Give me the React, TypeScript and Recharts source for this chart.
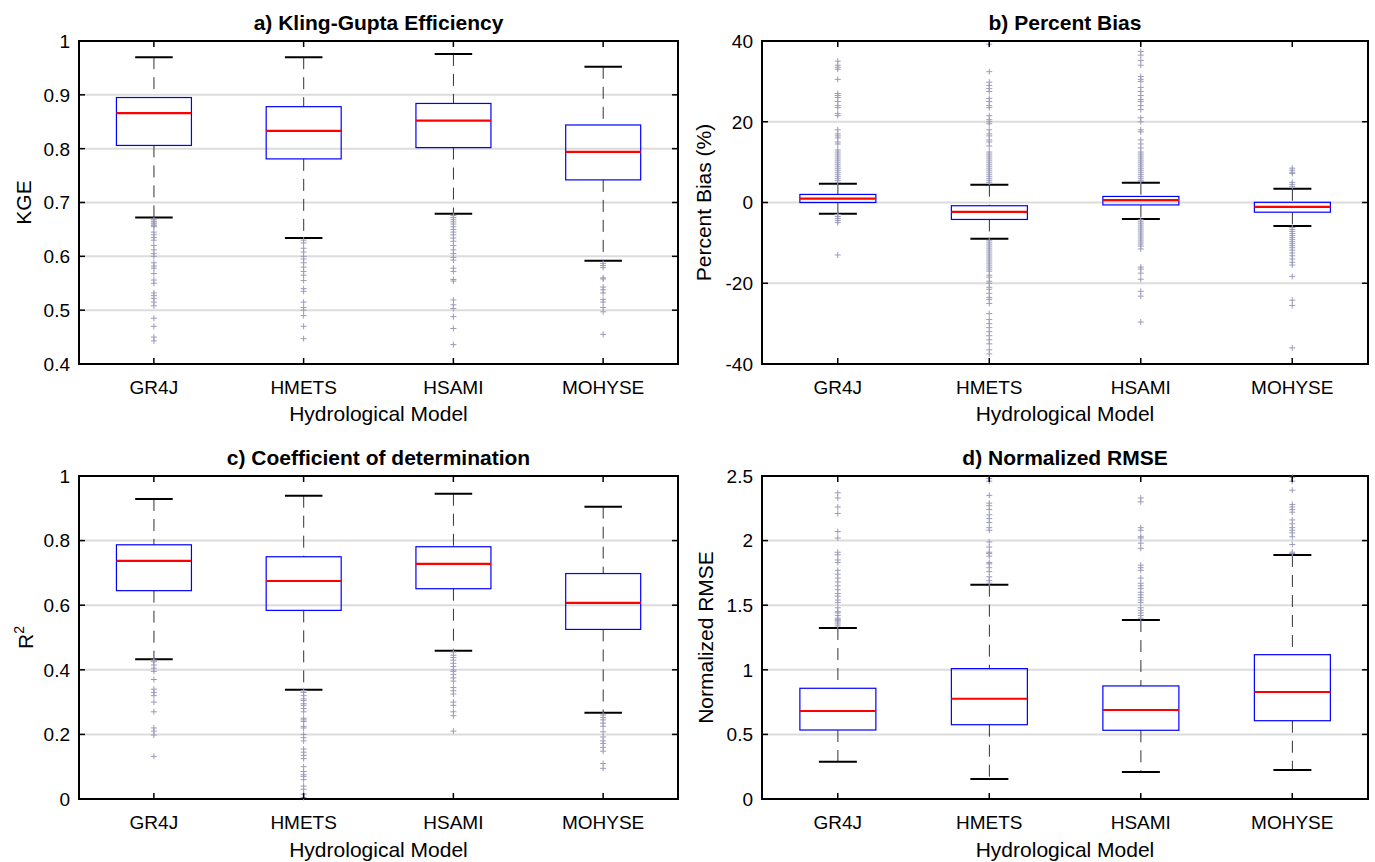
import React from "react";
import { ComposedChart, Bar, Scatter, XAxis, YAxis, CartesianGrid } from "recharts";

const models = ["GR4J", "HMETS", "HSAMI", "MOHYSE"];

// each box: [lower whisker, q1, median, q3, upper whisker]
const kgeBoxes = [
  [0.672, 0.806, 0.866, 0.895, 0.97],
  [0.634, 0.781, 0.833, 0.878, 0.97],
  [0.679, 0.802, 0.852, 0.884, 0.976],
  [0.592, 0.742, 0.794, 0.844, 0.952],
];
const kgeOutliers = [
  [0.668, 0.665, 0.662, 0.66, 0.657, 0.655, 0.645, 0.64, 0.635, 0.63, 0.62, 0.612, 0.605, 0.6, 0.588, 0.582, 0.578, 0.568, 0.556, 0.55, 0.532, 0.527, 0.522, 0.515, 0.508, 0.485, 0.47, 0.45, 0.443],
  [0.63, 0.625, 0.615, 0.608, 0.6, 0.595, 0.588, 0.58, 0.572, 0.565, 0.555, 0.54, 0.535, 0.515, 0.505, 0.5, 0.49, 0.47, 0.447],
  [0.676, 0.672, 0.668, 0.664, 0.66, 0.655, 0.65, 0.645, 0.64, 0.634, 0.628, 0.62, 0.612, 0.605, 0.598, 0.593, 0.578, 0.572, 0.557, 0.554, 0.519, 0.51, 0.503, 0.488, 0.466, 0.436],
  [0.587, 0.583, 0.579, 0.56, 0.558, 0.543, 0.538, 0.532, 0.52, 0.515, 0.505, 0.497, 0.455],
];

const pbiasBoxes = [
  [-2.8, 0.0, 0.95, 2.0, 4.65],
  [-9.0, -4.2, -2.3, -0.8, 4.4],
  [-4.1, -0.6, 0.6, 1.5, 4.9],
  [-5.8, -2.4, -1.1, 0.05, 3.4],
];
const pbiasOutliers = [
  [35, 34, 33.5, 33, 30.5, 27, 26.5, 26, 25, 24, 23.5, 22, 21.5, 18, 17, 16.5, 16, 15, 14.5, 13, 12.5, 12, 11.5, 11, 10.5, 10, 9.5, 9, 8.5, 8, 7.5, 7, 6.5, 6, 5.5, 5, -3, -3.5, -4, -4.5, -5, -13],
  [39.2, 32.4, 29.8, 29, 28.2, 27.5, 25.8, 25, 24, 23.5, 21.5, 20.5, 20, 19.5, 18, 17, 16.5, 15.5, 15, 14, 12.5, 12, 11.5, 11, 10.5, 10, 9.5, 9, 8.5, 8, 7.5, 7, 6.5, 6, 5.5, 5,
    -9.5, -10, -10.5, -11, -11.5, -12, -12.5, -13, -13.5, -14, -14.5, -15, -15.5, -16, -16.5, -17, -18, -18.5, -19.5, -20, -21, -21.5, -22.5, -23.5, -24, -25, -27.5, -29, -30, -31, -32, -33, -34, -35, -36.5, -37.5],
  [37.4, 36.5, 35.2, 34, 31.2, 30.5, 30, 28.5, 27.5, 26.5, 25.5, 25, 24, 23, 21, 20, 18, 17.5, 15.5, 14.5, 13.5, 12.5, 12, 11.5, 11, 10.5, 10, 9.5, 9, 8.5, 8, 7.5, 7, 6.5, 6, 5.5, 5.2,
    -4.3, -4.8, -5.3, -5.8, -6.3, -6.8, -7.3, -7.8, -8.3, -8.8, -9.3, -9.8, -10.3, -10.8, -11.5, -16, -16.5, -17.5, -19, -22, -23.2, -29.6],
  [8.5, 8, 7.5, 7.2, 5, 4.5, 4,
    -6.2, -6.7, -7.2, -7.7, -8.2, -8.7, -9.2, -9.7, -10.2, -10.7, -11.2, -11.8, -12.5, -13.2, -14, -14.8, -15.5, -18.3, -24.2, -25.5, -36],
];

const r2Boxes = [
  [0.433, 0.645, 0.737, 0.787, 0.929],
  [0.338, 0.584, 0.675, 0.75, 0.939],
  [0.459, 0.651, 0.728, 0.781, 0.945],
  [0.267, 0.525, 0.607, 0.698, 0.905],
];
const r2Outliers = [
  [0.43, 0.425, 0.415, 0.405, 0.395, 0.37, 0.34, 0.33, 0.32, 0.3, 0.27, 0.22, 0.21, 0.198, 0.132],
  [0.335, 0.33, 0.32, 0.31, 0.305, 0.295, 0.29, 0.28, 0.27, 0.25, 0.245, 0.24, 0.225, 0.22, 0.2, 0.19, 0.18, 0.155, 0.145, 0.135, 0.125, 0.1, 0.085, 0.075, 0.07, 0.06, 0.04, 0.03, 0.015, 0.005],
  [0.455, 0.445, 0.438, 0.43, 0.42, 0.41, 0.4, 0.395, 0.385, 0.375, 0.365, 0.345, 0.335, 0.325, 0.3, 0.29, 0.27, 0.258, 0.21],
  [0.26, 0.252, 0.245, 0.235, 0.225, 0.208, 0.192, 0.18, 0.172, 0.16, 0.148, 0.11, 0.095],
];

const nrmseBoxes = [
  [0.289, 0.534, 0.681, 0.857, 1.324],
  [0.155, 0.575, 0.776, 1.009, 1.659],
  [0.209, 0.532, 0.689, 0.875, 1.385],
  [0.224, 0.606, 0.828, 1.117, 1.889],
];
const nrmseOutliers = [
  [1.34, 1.355, 1.37, 1.38, 1.39, 1.4, 1.42, 1.44, 1.45, 1.48, 1.52, 1.54, 1.57, 1.59, 1.62, 1.65, 1.68, 1.71, 1.74, 1.77, 1.83, 1.85, 1.89, 1.91, 2.02, 2.07, 2.21, 2.26, 2.33, 2.37],
  [1.67, 1.69, 1.72, 1.76, 1.79, 1.82, 1.83, 1.88, 1.9, 1.91, 1.95, 1.99, 2.08, 2.1, 2.14, 2.17, 2.2, 2.24, 2.27, 2.29, 2.35, 2.46, 2.48],
  [1.4, 1.42, 1.44, 1.46, 1.48, 1.52, 1.54, 1.56, 1.58, 1.6, 1.63, 1.65, 1.67, 1.71, 1.77, 1.79, 1.81, 1.94, 1.98, 2.02, 2.03, 2.08, 2.1, 2.3, 2.33],
  [1.9, 1.91, 1.97, 2.03, 2.06, 2.08, 2.1, 2.13, 2.16, 2.22, 2.24, 2.26, 2.28, 2.39, 2.46, 2.49],
];

const kgeTicks = [0.4, 0.5, 0.6, 0.7, 0.8, 0.9, 1];
const pbiasTicks = [-40, -20, 0, 20, 40];
const r2Ticks = [0, 0.2, 0.4, 0.6, 0.8, 1];
const nrmseTicks = [0, 0.5, 1, 1.5, 2, 2.5];

const FONT = '"Liberation Sans", Arial, Helvetica, sans-serif';
const INK = "#000";
const TICK_LEN = 6;

function buildRows(boxes: number[][]) {
  return models.map((m, i) => ({ model: m, range: [boxes[i][0], boxes[i][4]], stats: boxes[i] }));
}

function buildPoints(outliers: number[][]) {
  return models.flatMap((m, i) => outliers[i].map((v) => ({ model: m, v })));
}

// whiskers, caps, box and median, positioned inside the bar the library lays out
function BoxShape(props: any) {
  const { x, y, width, height, payload } = props;
  const [lo, q1, med, q3, hi] = payload.stats;
  const top = Math.min(y, y + height);
  const bottom = Math.max(y, y + height);
  const py = (v: number) => bottom - ((v - lo) / (hi - lo)) * (bottom - top);
  const cx = x + width / 2;
  const cap = width / 4;
  return (
    <g>
      <line x1={cx} x2={cx} y1={py(hi)} y2={py(q3)} stroke="#333" strokeDasharray="12 8" />
      <line x1={cx} x2={cx} y1={py(q1)} y2={py(lo)} stroke="#333" strokeDasharray="12 8" />
      <line x1={cx - cap} x2={cx + cap} y1={py(hi)} y2={py(hi)} stroke={INK} strokeWidth={2} />
      <line x1={cx - cap} x2={cx + cap} y1={py(lo)} y2={py(lo)} stroke={INK} strokeWidth={2} />
      <rect x={x} y={py(q3)} width={width} height={py(q1) - py(q3)} fill="none" stroke="#0000ff" strokeWidth={1.2} />
      <line x1={x} x2={x + width} y1={py(med)} y2={py(med)} stroke="#ff0000" strokeWidth={2.2} />
    </g>
  );
}

function Plus(props: any) {
  const { cx, cy } = props;
  if (cx == null || cy == null) return null;
  return (
    <g stroke="#9b9bbb" strokeWidth={1}>
      <line x1={cx - 3} x2={cx + 3} y1={cy} y2={cy} />
      <line x1={cx} x2={cx} y1={cy - 3} y2={cy + 3} />
    </g>
  );
}

// matlab style ticks point into the plot
function LeftTick(props: any) {
  const { x, y, payload, axisX } = props;
  return (
    <g>
      <line x1={axisX} x2={axisX + TICK_LEN} y1={y} y2={y} stroke={INK} strokeWidth={1.5} />
      <text x={x} y={y} dy="0.36em" textAnchor="end" fontSize={19} fill={INK} fontFamily={FONT}>
        {String(payload.value)}
      </text>
    </g>
  );
}

function RightTick(props: any) {
  const { x, y } = props;
  return <line x1={x} x2={x - TICK_LEN} y1={y} y2={y} stroke={INK} strokeWidth={1.5} />;
}

function BottomTick(props: any) {
  const { x, y, payload } = props;
  return (
    <g>
      <line x1={x} x2={x} y1={y} y2={y - TICK_LEN} stroke={INK} strokeWidth={1.5} />
      <text x={x} y={y + 30} textAnchor="middle" fontSize={19} fill={INK} fontFamily={FONT}>
        {payload.value}
      </text>
    </g>
  );
}

function TopTick(props: any) {
  const { x, y } = props;
  return <line x1={x} x2={x} y1={y} y2={y + TICK_LEN} stroke={INK} strokeWidth={1.5} />;
}

type PanelProps = {
  left: number;
  top: number;
  width: number;
  height: number;
  plotTop: number;
  plotRight: number;
  yWidth: number;
  xHeight: number;
  yLabelX: number;
  xLabelOff: number;
  title: string;
  yLabel: string;
  sup?: string;
  domain: [number, number];
  ticks: number[];
  boxes: number[][];
  outliers: number[][];
};

function Panel(p: PanelProps) {
  const rows = buildRows(p.boxes);
  const points = buildPoints(p.outliers);
  const axisLine = { stroke: INK, strokeWidth: 2, strokeLinecap: "square" as const };
  // top and right axes are 1px thick so that recharts still draws them
  const marginTop = p.plotTop - 1;
  const marginRight = p.width - p.plotRight - 1;
  return (
    <div style={{ position: "absolute", left: p.left, top: p.top }}>
      <ComposedChart
        width={p.width}
        height={p.height}
        data={rows}
        barCategoryGap="25%"
        margin={{ top: marginTop, right: marginRight, bottom: 0, left: 0 }}
        style={{ fontFamily: FONT }}
      >
        <CartesianGrid vertical={false} stroke="#dcdcdc" strokeWidth={2} />
        <XAxis
          dataKey="model"
          type="category"
          allowDuplicatedCategory={false}
          height={p.xHeight}
          axisLine={axisLine}
          tickLine={false}
          tickSize={0}
          tickMargin={0}
          tick={<BottomTick />}
          interval={0}
          label={{
            content: (lp: any) => {
              const vb = lp.viewBox;
              return (
                <text x={vb.x + vb.width / 2} y={vb.y + vb.height - p.xLabelOff} textAnchor="middle" fontSize={21} fill={INK} fontFamily={FONT}>
                  Hydrological Model
                </text>
              );
            },
          }}
        />
        <XAxis
          xAxisId="top"
          dataKey="model"
          type="category"
          allowDuplicatedCategory={false}
          orientation="top"
          height={1}
          axisLine={axisLine}
          tickLine={false}
          tickSize={0}
          tickMargin={0}
          tick={<TopTick />}
          interval={0}
          label={{
            content: (lp: any) => {
              const vb = lp.viewBox;
              return (
                <text x={vb.x + vb.width / 2} y={vb.y + vb.height - 11} textAnchor="middle" fontSize={21} fontWeight="bold" fill={INK} fontFamily={FONT}>
                  {p.title}
                </text>
              );
            },
          }}
        />
        <YAxis
          type="number"
          domain={p.domain}
          ticks={p.ticks}
          interval={0}
          width={p.yWidth}
          axisLine={axisLine}
          tickLine={false}
          tickSize={0}
          tickMargin={9}
          tick={<LeftTick axisX={p.yWidth} />}
          label={{
            content: (lp: any) => {
              const vb = lp.viewBox;
              const cy = vb.y + vb.height / 2;
              const bx = p.yLabelX;
              return (
                <text x={bx} y={cy} transform={`rotate(-90 ${bx} ${cy})`} textAnchor="middle" fontSize={21} fill={INK} fontFamily={FONT}>
                  {p.yLabel}
                  {p.sup ? (
                    <tspan dy={-9} fontSize={14}>
                      {p.sup}
                    </tspan>
                  ) : null}
                </text>
              );
            },
          }}
        />
        <YAxis
          yAxisId="right"
          orientation="right"
          type="number"
          domain={p.domain}
          ticks={p.ticks}
          interval={0}
          width={1}
          axisLine={axisLine}
          tickLine={false}
          tickSize={0}
          tickMargin={0}
          tick={<RightTick />}
        />
        <Bar dataKey="range" xAxisId="top" yAxisId="right" shape={<BoxShape />} isAnimationActive={false} />
        <Scatter data={points} dataKey="v" shape={<Plus />} isAnimationActive={false} />
      </ComposedChart>
    </div>
  );
}

export default function App() {
  return (
    <div style={{ position: "absolute", left: 0, top: 0, width: 1375, height: 862, background: "#fff" }}>
      <Panel
        left={0} top={0} width={690} height={430}
        plotTop={41} plotRight={678} yWidth={79} xHeight={66} yLabelX={31} xLabelOff={9}
        title="a) Kling-Gupta Efficiency" yLabel="KGE"
        domain={[0.4, 1]} ticks={kgeTicks} boxes={kgeBoxes} outliers={kgeOutliers}
      />
      <Panel
        left={690} top={0} width={685} height={430}
        plotTop={41} plotRight={678} yWidth={72} xHeight={66} yLabelX={21} xLabelOff={9}
        title="b) Percent Bias" yLabel="Percent Bias (%)"
        domain={[-40, 40]} ticks={pbiasTicks} boxes={pbiasBoxes} outliers={pbiasOutliers}
      />
      <Panel
        left={0} top={430} width={690} height={432}
        plotTop={46} plotRight={678} yWidth={79} xHeight={63} yLabelX={33} xLabelOff={5}
        title="c) Coefficient of determination" yLabel="R" sup="2"
        domain={[0, 1]} ticks={r2Ticks} boxes={r2Boxes} outliers={r2Outliers}
      />
      <Panel
        left={690} top={430} width={685} height={432}
        plotTop={46} plotRight={678} yWidth={72} xHeight={63} yLabelX={23} xLabelOff={5}
        title="d) Normalized RMSE" yLabel="Normalized RMSE"
        domain={[0, 2.5]} ticks={nrmseTicks} boxes={nrmseBoxes} outliers={nrmseOutliers}
      />
    </div>
  );
}
